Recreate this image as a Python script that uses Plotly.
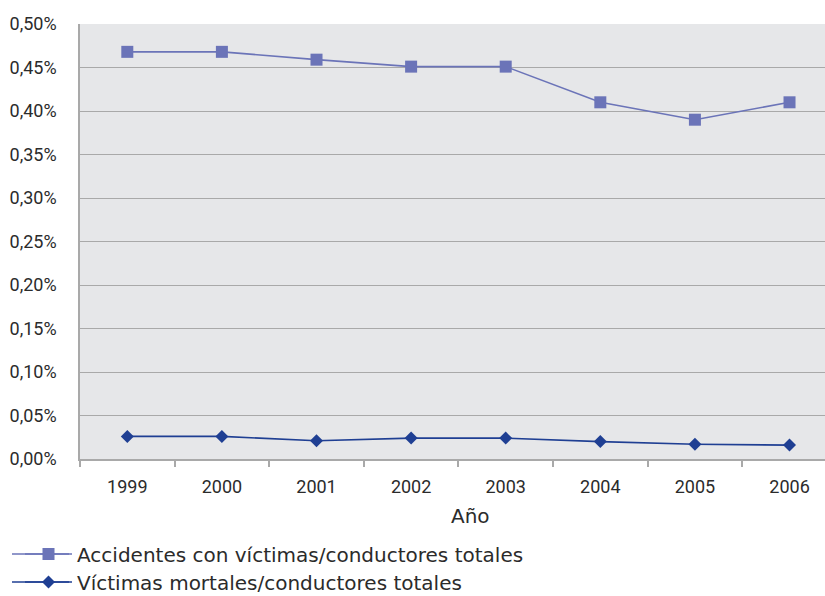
import plotly.graph_objects as go

# Years on the category axis
years = ["1999", "2000", "2001", "2002", "2003", "2004", "2005", "2006"]

# Ratios expressed as fractions (0.0047 -> 0,47%)
accidentes_victimas = [0.00468, 0.00468, 0.00459, 0.00451, 0.00451, 0.00410, 0.00390, 0.00410]
victimas_mortales = [0.00026, 0.00026, 0.00021, 0.00024, 0.00024, 0.00020, 0.00017, 0.00016]

serie_accidentes = "Accidentes con víctimas/conductores totales"
serie_mortales = "Víctimas mortales/conductores totales"

NUM_FONT = "Roboto"
TXT_FONT = "DejaVu Sans"
TEXT = "#2b2b2b"
GRID = "#a9a9a9"
C_ACC = "#6b74b8"
C_MORT = "#1f3f93"

W, H = 825, 596
L, R, T, B = 80, 0, 24, 137
PW, PH = W - L - R, H - T - B

# legend rows (pixel rows from the top of the figure)
ROW1, ROW2 = 554, 582

fig = go.Figure()

fig.add_trace(go.Scatter(
    x=years, y=accidentes_victimas, name=serie_accidentes,
    mode="lines+markers",
    line=dict(color=C_ACC, width=1.6),
    marker=dict(symbol="square", size=12, color=C_ACC),
    legend="legend",
))

fig.add_trace(go.Scatter(
    x=years, y=victimas_mortales, name=serie_mortales,
    mode="lines+markers",
    line=dict(color=C_MORT, width=1.6),
    marker=dict(symbol="diamond", size=10, color=C_MORT),
    legend="legend2",
))


def cy(px):
    """Container y fraction for a pixel row measured from the top."""
    return (H - px) / H


def py(px):
    """Paper y fraction for a pixel row measured from the top."""
    return (T + PH - px) / PH


def pxx(px):
    """Paper x fraction for a pixel column measured from the left."""
    return (px - L) / PW


legend_common = dict(
    xref="container", yref="container", xanchor="left", yanchor="middle",
    font=dict(family=TXT_FONT, size=20, color=TEXT), itemwidth=47,
    bgcolor="rgba(0,0,0,0)", borderwidth=0,
)

# longer key lines behind the legend symbols
key_lines = [
    dict(type="line", xref="paper", yref="paper",
         x0=pxx(12), x1=pxx(69), y0=py(ROW1), y1=py(ROW1),
         line=dict(color=C_ACC, width=1.6)),
    dict(type="line", xref="paper", yref="paper",
         x0=pxx(12), x1=pxx(69), y0=py(ROW2), y1=py(ROW2),
         line=dict(color=C_MORT, width=1.6)),
]

fig.update_layout(
    width=W, height=H,
    margin=dict(l=L, r=R, t=T, b=B, autoexpand=False),
    paper_bgcolor="white",
    plot_bgcolor="#e6e7e9",
    separators=",.",
    font=dict(family=NUM_FONT, size=18, color=TEXT),
    showlegend=True,
    legend=dict(x=20 / W, y=cy(ROW1), **legend_common),
    legend2=dict(x=20 / W, y=cy(ROW2), **legend_common),
    shapes=key_lines,
    annotations=[dict(
        text="Año", x=pxx(470), xref="paper",
        y=py(516), yref="paper", yanchor="middle", xanchor="center",
        showarrow=False, font=dict(family=TXT_FONT, size=20, color=TEXT),
    )],
)

fig.update_xaxes(
    type="category",
    range=[-0.5, 7.375],
    showgrid=False,
    showline=True, linecolor=GRID, linewidth=1.5,
    ticks="outside", tickson="boundaries", ticklen=6, tickcolor=GRID, tickwidth=1.5,
    tickangle=0,
    tickfont=dict(family=NUM_FONT, size=18, color=TEXT),
    ticklabelstandoff=11,
)

fig.update_yaxes(
    range=[0, 0.005],
    dtick=0.0005,
    tickformat=".2%",
    showgrid=True, gridcolor=GRID, gridwidth=1.2,
    zeroline=False,
    showline=True, linecolor=GRID, linewidth=1.5,
    ticks="",
    tickfont=dict(family=NUM_FONT, size=18, color=TEXT),
    ticklabelstandoff=18,
)

fig.write_html("out.html")
